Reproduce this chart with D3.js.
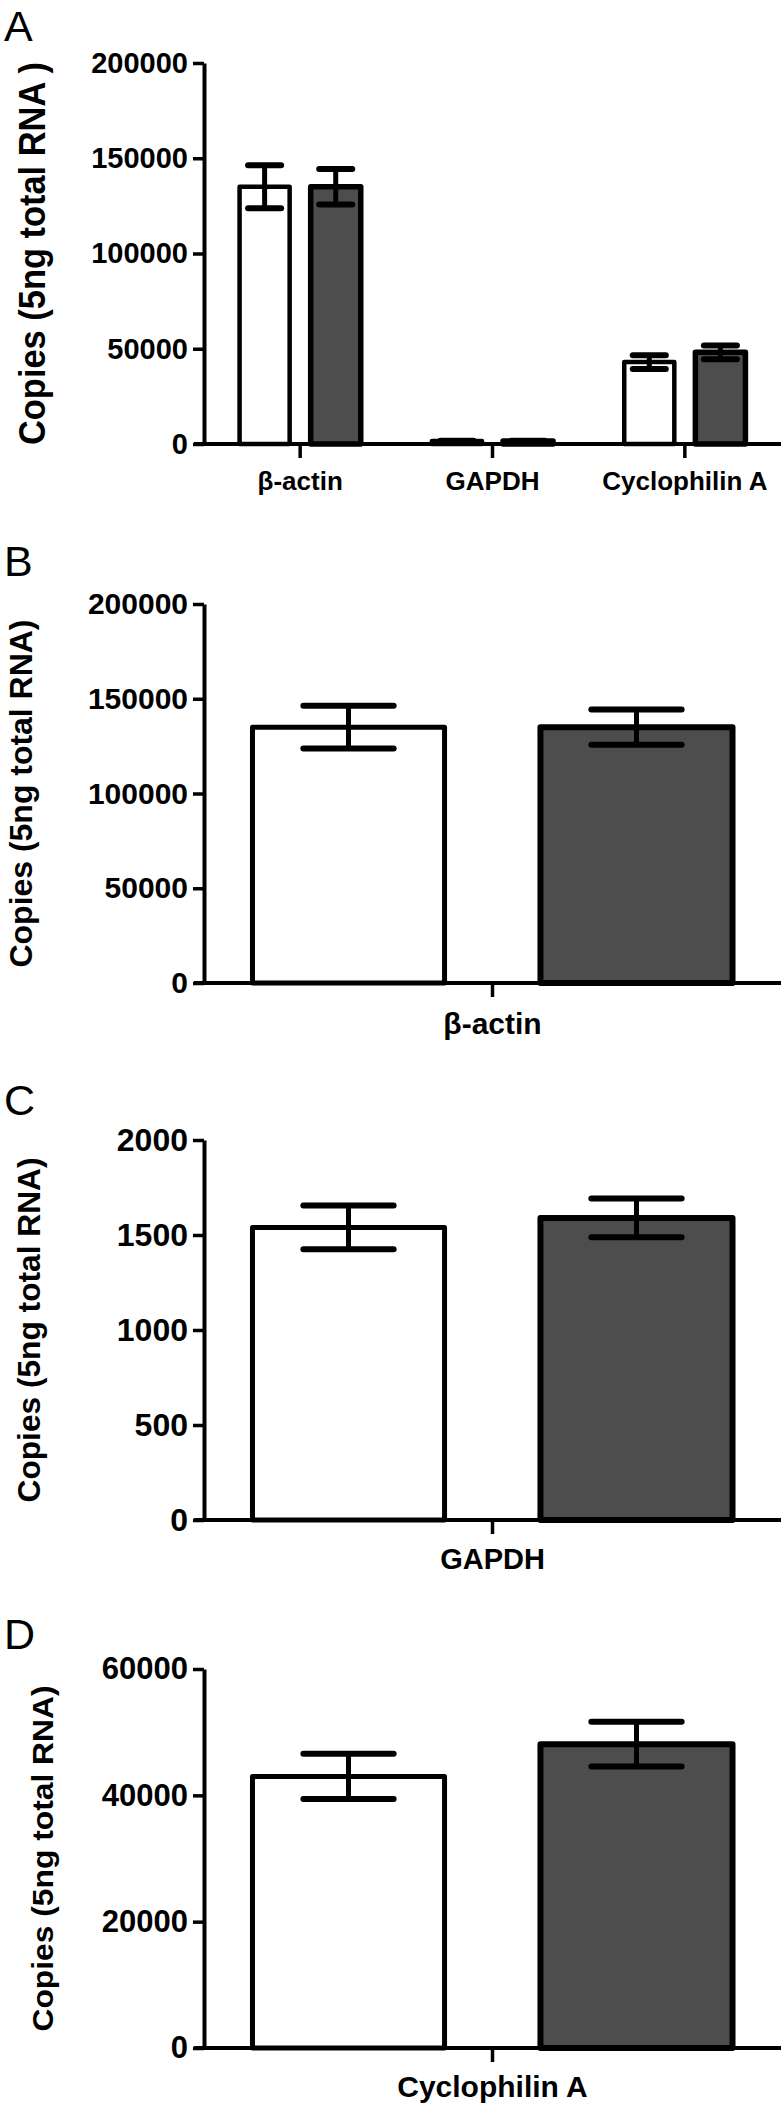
<!DOCTYPE html>
<html>
<head>
<meta charset="utf-8">
<script src="https://cdn.jsdelivr.net/npm/d3@7"></script>
<style>
  body { margin: 0; background: #fff; }
  svg text { font-family: "Liberation Sans", Arial, sans-serif; }
</style>
</head>
<body>
<svg id="fig" width="783" height="2104"></svg>
<script>
// values (mean and error half-width)
const genes = ['β-actin', 'GAPDH', 'Cyclophilin A'];
const series = ['open', 'filled'];
const openMean = [135000, 1540, 43000];
const openErr = [11300, 115, 3600];
const filledMean = [135000, 1590, 48100];
const filledErr = [9300, 102, 3550];

const ticksAll = [0, 50000, 100000, 150000, 200000];
const ticksActin = [0, 50000, 100000, 150000, 200000];
const ticksGapdh = [0, 500, 1000, 1500, 2000];
const ticksCyclo = [0, 20000, 40000, 60000];

const rows = genes.map((g, i) => ({
  gene: g,
  values: [
    { key: 'open', mean: openMean[i], err: openErr[i] },
    { key: 'filled', mean: filledMean[i], err: filledErr[i] }
  ]
}));

const svg = d3.select('#fig');
const axisX = 204;
const axisRight = 781;
const fills = { open: '#ffffff', filled: '#4d4d4d' };

const panels = [
  { letter: 'A', letterY: 41, genes: genes, ticks: ticksAll, top: 63, bottom: 444,
    title: 'Copies (5ng total RNA )', titleFont: 37, titleX: 45, titleLen: 383,
    innerPad: 0.37, outerPad: 0.185, subPad: 0.296, capRatio: 0.66,
    tickFont: 29, catFont: 26, catPad: 14, barStroke: 4.5 },
  { letter: 'B', letterY: 576, genes: ['β-actin'], ticks: ticksActin, top: 604, bottom: 983,
    title: 'Copies (5ng total RNA)', titleFont: 31, titleX: 32, titleLen: 348,
    innerPad: 0, outerPad: 0.101, subPad: 0.333, capRatio: 0.47,
    tickFont: 30, catFont: 30, catPad: 16, barStroke: 5 },
  { letter: 'C', letterY: 1115, genes: ['GAPDH'], ticks: ticksGapdh, top: 1140, bottom: 1520,
    title: 'Copies (5ng total RNA)', titleFont: 31, titleX: 40, titleLen: 345,
    innerPad: 0, outerPad: 0.101, subPad: 0.333, capRatio: 0.47,
    tickFont: 32, catFont: 29, catPad: 14, barStroke: 5 },
  { letter: 'D', letterY: 1649, genes: ['Cyclophilin A'], ticks: ticksCyclo, top: 1669, bottom: 2048,
    title: 'Copies (5ng total RNA)', titleFont: 30, titleX: 53, titleLen: 346,
    innerPad: 0, outerPad: 0.101, subPad: 0.333, capRatio: 0.47,
    tickFont: 31, catFont: 30, catPad: 14, barStroke: 5 }
];

function drawPanel(p) {
  const g = svg.append('g');
  const data = rows.filter(r => p.genes.includes(r.gene));

  const y = d3.scaleLinear()
    .domain([0, d3.max(p.ticks)])
    .range([p.bottom, p.top]);
  const x0 = d3.scaleBand()
    .domain(p.genes)
    .range([axisX, axisRight])
    .paddingInner(p.innerPad)
    .paddingOuter(p.outerPad);
  const x1 = d3.scaleBand()
    .domain(series)
    .range([0, x0.bandwidth()])
    .paddingInner(p.subPad);

  // panel letter
  g.append('text')
    .attr('x', 4)
    .attr('y', p.letterY)
    .attr('font-size', 43)
    .attr('fill', '#000')
    .text(p.letter);

  // bars
  const groups = g.selectAll('g.grp')
    .data(data)
    .enter().append('g')
      .attr('class', 'grp')
      .attr('transform', d => `translate(${x0(d.gene)},0)`);

  groups.selectAll('rect')
    .data(d => d.values)
    .enter().append('rect')
      .attr('x', d => x1(d.key))
      .attr('width', x1.bandwidth())
      .attr('y', d => y(d.mean))
      .attr('height', d => y(0) - y(d.mean))
      .attr('fill', d => fills[d.key])
      .attr('stroke', '#000')
      .attr('stroke-linejoin', 'round')
      .attr('stroke-width', d => d.key === 'filled' ? p.barStroke + 1 : p.barStroke);

  // y axis
  const yAxis = g.append('g')
    .attr('transform', `translate(${axisX},0)`)
    .call(d3.axisLeft(y).tickValues(p.ticks).tickFormat(d3.format('d'))
      .tickSize(11).tickSizeOuter(0).tickPadding(5));
  yAxis.select('.domain').attr('stroke-width', 4);
  yAxis.selectAll('.tick line').attr('stroke-width', 3.5);
  yAxis.selectAll('text')
    .attr('font-family', '"Liberation Sans", Arial, sans-serif')
    .attr('font-weight', 'bold')
    .attr('font-size', p.tickFont)
    .attr('fill', '#000');

  // x axis
  const xAxis = g.append('g')
    .attr('transform', `translate(0,${y(0)})`)
    .call(d3.axisBottom(x0).tickSize(14).tickSizeOuter(0).tickPadding(p.catPad));
  xAxis.select('.domain').remove();
  xAxis.selectAll('.tick line').attr('stroke-width', 3.5);
  xAxis.selectAll('text')
    .attr('font-family', '"Liberation Sans", Arial, sans-serif')
    .attr('font-weight', 'bold')
    .attr('font-size', p.catFont)
    .attr('fill', '#000');
  xAxis.append('line')
    .attr('x1', axisX - 10)
    .attr('x2', axisRight)
    .attr('stroke', '#000')
    .attr('stroke-width', 4);

  // error bars
  const err = groups.selectAll('g.err')
    .data(d => d.values)
    .enter().append('g')
      .attr('class', 'err')
      .attr('transform', d => `translate(${x1(d.key) + x1.bandwidth() / 2},0)`);
  const capHalf = x1.bandwidth() * p.capRatio / 2;

  err.append('line')
    .attr('y1', d => y(d.mean - d.err))
    .attr('y2', d => y(d.mean + d.err))
    .attr('stroke', '#000')
    .attr('stroke-width', 5);
  err.selectAll('line.cap')
    .data(d => [d.mean - d.err, d.mean + d.err])
    .enter().append('line')
      .attr('class', 'cap')
      .attr('x1', -capHalf)
      .attr('x2', capHalf)
      .attr('y1', v => y(v))
      .attr('y2', v => y(v))
      .attr('stroke', '#000')
      .attr('stroke-linecap', 'round')
      .attr('stroke-width', 6);

  // y title
  g.append('text')
    .attr('transform', `translate(${p.titleX},${(p.top + p.bottom) / 2}) rotate(-90)`)
    .attr('text-anchor', 'middle')
    .attr('font-weight', 'bold')
    .attr('font-size', p.titleFont)
    .attr('textLength', p.titleLen)
    .attr('lengthAdjust', 'spacingAndGlyphs')
    .attr('fill', '#000')
    .text(p.title);
}

panels.forEach(drawPanel);
</script>
</body>
</html>
